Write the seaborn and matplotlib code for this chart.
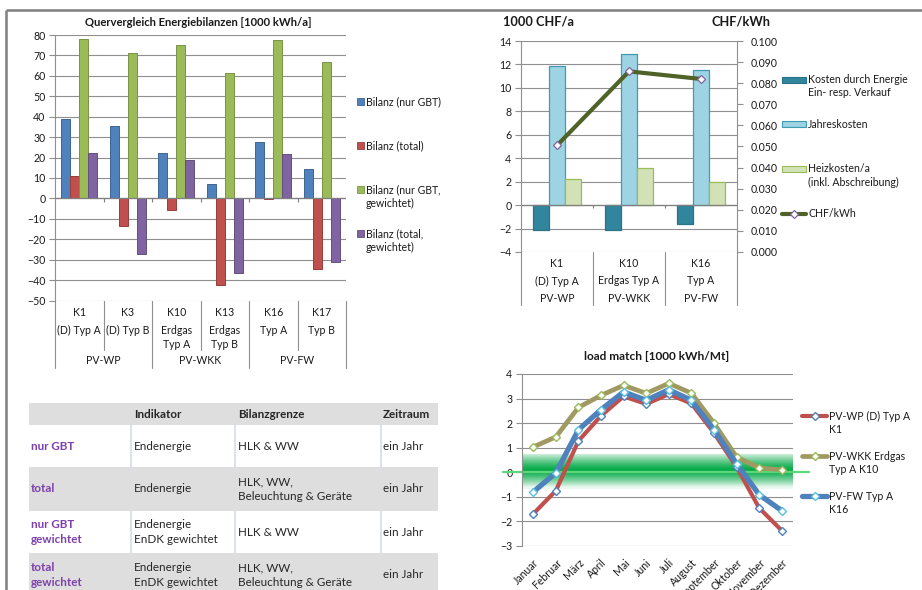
import numpy as np
import pandas as pd
import matplotlib
matplotlib.use("Agg")
import matplotlib.pyplot as plt
import seaborn as sns
from matplotlib.patches import Rectangle
from matplotlib.lines import Line2D
from matplotlib.colors import to_rgb

# ---------------- Data: chart 1 (Quervergleich Energiebilanzen) ----------------
bal_codes = ["K1", "K3", "K10", "K13", "K16", "K17"]
bal_types = ["(D) Typ A", "(D) Typ B", "Erdgas\nTyp A", "Erdgas\nTyp B", "Typ A", "Typ B"]
bal_groups = ["PV-WP", "PV-WKK", "PV-FW"]
bal_series = ["Bilanz (nur GBT)", "Bilanz (total)", "Bilanz (nur GBT,\ngewichtet)", "Bilanz (total,\ngewichtet)"]
bal_nur_gbt = [39.0, 35.5, 22.3, 7.0, 27.7, 14.5]
bal_total = [11.0, -13.5, -5.5, -42.5, -0.5, -34.5]
bal_nur_gbt_w = [78.0, 71.0, 75.0, 61.5, 77.5, 67.0]
bal_total_w = [22.0, -27.0, 19.0, -36.5, 21.5, -31.0]

# ---------------- Data: chart 2 (Kosten) ----------------
cost_codes = ["K1", "K10", "K16"]
cost_types = ["(D) Typ A", "Erdgas Typ A", "Typ A"]
cost_groups = ["PV-WP", "PV-WKK", "PV-FW"]
cost_series = ["Kosten durch Energie\nEin- resp. Verkauf", "Jahreskosten", "Heizkosten/a\n(inkl. Abschreibung)"]
cost_energy = [-2.1, -2.1, -1.6]
cost_annual = [11.9, 12.9, 11.5]
cost_heat = [2.2, 3.15, 2.0]
chf_label = "CHF/kWh"
chf_per_kwh = [0.0505, 0.0856, 0.082]

# ---------------- Data: chart 3 (load match) ----------------
months = ["Januar", "Februar", "März", "April", "Mai", "Juni", "Juli", "August",
          "September", "Oktober", "November", "Dezember"]
lm_series = ["PV-WP (D) Typ A\nK1", "PV-WKK Erdgas\nTyp A K10", "PV-FW Typ A\nK16"]
lm_pvwp = [-1.69, -0.75, 1.28, 2.3, 3.09, 2.78, 3.18, 2.8, 1.6, 0.22, -1.45, -2.37]
lm_pvwkk = [1.03, 1.44, 2.64, 3.13, 3.54, 3.21, 3.62, 3.22, 2.0, 0.62, 0.18, 0.1]
lm_pvfw = [-0.8, -0.02, 1.73, 2.55, 3.27, 2.93, 3.36, 2.93, 1.74, 0.35, -0.91, -1.56]

# ---------------- Data: table ----------------
tab_header = ["", "Indikator", "Bilanzgrenze", "Zeitraum"]
tab_rows = [
    ["nur GBT", "Endenergie", "HLK & WW", "ein Jahr"],
    ["total", "Endenergie", "HLK, WW,\nBeleuchtung & Geräte", "ein Jahr"],
    ["nur GBT\ngewichtet", "Endenergie\nEnDK gewichtet", "HLK & WW", "ein Jahr"],
    ["total\ngewichtet", "Endenergie\nEnDK gewichtet", "HLK, WW,\nBeleuchtung & Geräte", "ein Jahr"],
]

# ---------------- Style ----------------
sns.set_theme(style="white")
FONT = ["Lato", "DejaVu Sans"]
plt.rcParams["font.family"] = FONT
TXT = "#1a1a1a"
GRID = "#8f8f8f"
FS = 7.6
FS_TAB = 8.4

W, H = 922, 590
fig = plt.figure(figsize=(W / 100, H / 100), dpi=100)
fig.patch.set_facecolor("white")


def px_axes(x0, y0, x1, y1):
    return fig.add_axes([x0 / W, 1 - y1 / H, (x1 - x0) / W, (y1 - y0) / H])


def darker(c, f=0.78):
    r, g, b = to_rgb(c)
    return (r * f, g * f, b * f)


ov = px_axes(0, 0, W, H)
ov.set_xlim(0, W)
ov.set_ylim(H, 0)
ov.axis("off")

# outer frame (top + left)
ov.plot([6, 6], [10, H], color="#808080", lw=1.8, solid_capstyle="butt")
ov.plot([6, W], [10, 10], color="#808080", lw=1.8, solid_capstyle="butt")


def multiline(x, y, label, lh, **kw):
    for i, line in enumerate(label.split("\n")):
        ov.text(x, y + i * lh, line, va="center", **kw)


def style_axis(ax):
    ax.set_xlabel("")
    ax.set_ylabel("")
    for s in ["top", "right", "bottom"]:
        ax.spines[s].set_visible(False)
    ax.spines["left"].set_color(GRID)
    ax.spines["left"].set_linewidth(0.8)
    ax.yaxis.grid(True, color=GRID, lw=0.8)
    ax.set_axisbelow(True)
    ax.tick_params(axis="y", left=True, length=4, width=0.8, color=GRID,
                   labelsize=FS, labelcolor=TXT, pad=3)
    ax.set_xticks([])
    ax.set_facecolor("none")


# ======================= Chart 1 =======================
ax1 = px_axes(55, 35, 346, 300.5)
colors1 = ["#4F81BD", "#C0504D", "#9BBB59", "#8064A2"]
df1 = pd.DataFrame({"code": bal_codes,
                    bal_series[0]: bal_nur_gbt,
                    bal_series[1]: bal_total,
                    bal_series[2]: bal_nur_gbt_w,
                    bal_series[3]: bal_total_w}).melt(id_vars="code", var_name="serie", value_name="wert")
sns.barplot(data=df1, x="code", y="wert", hue="serie", order=bal_codes, hue_order=bal_series,
            palette=dict(zip(bal_series, colors1)), saturation=1, width=0.74, ax=ax1,
            legend=False, errorbar=None)
for cont, c in zip(ax1.containers, colors1):
    for p in cont:
        p.set_edgecolor(darker(c))
        p.set_linewidth(0.7)
ax1.set_ylim(-50, 80)
ax1.set_xlim(-0.5, len(bal_codes) - 0.5)
ax1.set_yticks(np.arange(-50, 81, 10))
style_axis(ax1)
ax1.axhline(0, color="#7f7f7f", lw=0.9, zorder=1)
ax1.vlines(np.arange(0.5, len(bal_codes) - 0.5, 1), -1.6, 0, color="#7f7f7f", lw=0.8)

# multi-level category axis (pixel coordinates on overlay)
x_edges1 = np.linspace(55, 346, len(bal_codes) + 1)
for i in range(len(bal_codes) + 1):
    bottom = 368 if i % 2 == 0 else 350
    ov.plot([x_edges1[i]] * 2, [300.5, bottom], color=GRID, lw=0.8)
for i, (code, typ) in enumerate(zip(bal_codes, bal_types)):
    xc = (x_edges1[i] + x_edges1[i + 1]) / 2
    ov.text(xc, 312, code, ha="center", va="center", fontsize=FS, color=TXT)
    multiline(xc, 330, typ, 14, ha="center", fontsize=FS, color=TXT)
for g, name in enumerate(bal_groups):
    xc = (x_edges1[2 * g] + x_edges1[2 * g + 2]) / 2
    ov.text(xc, 361, name, ha="center", va="center", fontsize=FS, color=TXT)

ov.text(198, 22, "Quervergleich Energiebilanzen [1000 kWh/a]", ha="center", va="center",
        fontsize=8.1, fontweight="bold", color=TXT)

for y, lab, c in zip([101.5, 145.5, 189.5, 233.5], bal_series, colors1):
    ov.add_patch(Rectangle((357, y - 3.5), 7, 7, fc=c, ec=darker(c), lw=0.6))
    multiline(366, y, lab, 14, ha="left", fontsize=FS, color=TXT)

# ======================= Chart 2 =======================
ax2 = px_axes(521, 41, 737, 252)
fill2 = ["#31859C", "#9DD3E2", "#D2E2B6"]
edge2 = ["#2A7386", "#3E9BB3", "#9BBB59"]
df2 = pd.DataFrame({"code": cost_codes,
                    cost_series[0]: cost_energy,
                    cost_series[1]: cost_annual,
                    cost_series[2]: cost_heat}).melt(id_vars="code", var_name="serie", value_name="wert")
sns.barplot(data=df2, x="code", y="wert", hue="serie", order=cost_codes, hue_order=cost_series,
            palette=dict(zip(cost_series, fill2)), saturation=1, width=0.68, ax=ax2,
            legend=False, errorbar=None)
for cont, ec in zip(ax2.containers, edge2):
    for p in cont:
        p.set_edgecolor(ec)
        p.set_linewidth(0.9)
ax2.set_ylim(-4, 14)
ax2.set_xlim(-0.5, len(cost_codes) - 0.5)
ax2.set_yticks(np.arange(-4, 15, 2))
style_axis(ax2)
ax2.axhline(0, color="#7f7f7f", lw=0.9, zorder=1)
ax2.vlines(np.arange(0.5, len(cost_codes) - 0.5, 1), -0.25, 0, color="#7f7f7f", lw=0.8)

ax2r = ax2.twinx()
sns.lineplot(x=np.arange(len(cost_codes)), y=chf_per_kwh, ax=ax2r, color="#4F6228", lw=3,
             marker="D", markersize=4.5, markerfacecolor="white", markeredgecolor="#8064A2",
             markeredgewidth=0.9, legend=False)
ax2r.set_ylim(0, 0.1)
ax2r.set_xlim(-0.5, len(cost_codes) - 0.5)
ax2r.set_yticks(np.arange(0, 0.1001, 0.01))
ax2r.set_yticklabels([f"{v:.3f}" for v in np.arange(0, 0.1001, 0.01)])
for s in ["top", "left", "bottom"]:
    ax2r.spines[s].set_visible(False)
ax2r.spines["right"].set_color(GRID)
ax2r.spines["right"].set_linewidth(0.8)
ax2r.tick_params(axis="y", right=True, length=4, width=0.8, color=GRID,
                 labelsize=FS, labelcolor=TXT, pad=6)
ax2r.set_ylabel("")
ax2r.grid(False)

x_edges2 = np.linspace(521, 737, len(cost_codes) + 1)
for xe in x_edges2:
    ov.plot([xe, xe], [252, 305], color=GRID, lw=0.8)
for i in range(len(cost_codes)):
    xc = (x_edges2[i] + x_edges2[i + 1]) / 2
    ov.text(xc, 263.5, cost_codes[i], ha="center", va="center", fontsize=FS, color=TXT)
    ov.text(xc, 281, cost_types[i], ha="center", va="center", fontsize=FS, color=TXT)
    ov.text(xc, 298.5, cost_groups[i], ha="center", va="center", fontsize=FS, color=TXT)

ov.text(503, 22, "1000 CHF/a", ha="left", va="center", fontsize=9.2, fontweight="bold", color=TXT)
ov.text(770, 22, "CHF/kWh", ha="right", va="center", fontsize=9.2, fontweight="bold", color=TXT)

for y, lab, fc, ec in zip([79.5, 124, 168.5], cost_series, fill2, edge2):
    ov.add_patch(Rectangle((782, y - 3), 24, 6, fc=fc, ec=ec, lw=0.8))
    multiline(808, y, lab, 13.5, ha="left", fontsize=FS, color=TXT)
ov.add_line(Line2D([782, 806], [213.5, 213.5], color="#4F6228", lw=3))
ov.add_line(Line2D([794], [213.5], marker="D", ms=4.5, mfc="white", mec="#8064A2", mew=0.9))
ov.text(808, 213.5, chf_label, ha="left", va="center", fontsize=FS, color=TXT)

# ======================= Chart 3 =======================
ax3 = px_axes(522, 374, 793, 546)
line_cols = ["#C0504D", "#A09A62", "#4F81BD"]
mk_cols = ["#4F81BD", "#9BBB59", "#5BC0DE"]
lws = [3.0, 3.4, 3.8]
for vals, lc, mc, lw in zip([lm_pvwp, lm_pvwkk, lm_pvfw], line_cols, mk_cols, lws):
    sns.lineplot(x=months, y=vals, sort=False, ax=ax3, color=lc, lw=lw, marker="D",
                 markersize=4.5, markerfacecolor="white", markeredgecolor=mc,
                 markeredgewidth=1.0, legend=False, zorder=3)
ax3.set_ylim(-3, 4)
ax3.set_xlim(-0.5, len(months) - 0.5)
ax3.set_yticks(np.arange(-3, 5, 1))
style_axis(ax3)
ax3.set_xticks(np.arange(len(months)))
ax3.set_xticklabels(months, rotation=45, ha="right", rotation_mode="anchor",
                    fontsize=FS, color=TXT)
ax3.tick_params(axis="x", bottom=False, pad=2)

# green gradient band around zero
t = np.linspace(-1, 1, 120)
alpha = np.clip(1 - np.abs(t - 0.1) ** 1.3, 0, 1) * 0.9 + 0.08
band = np.zeros((len(t), 2, 4))
band[..., 0], band[..., 1], band[..., 2] = 0.0, 0.66, 0.27
band[..., 3] = alpha[:, None]
ax3.imshow(band, extent=[-0.5, len(months) - 0.5, -0.68, 0.72], origin="lower",
           aspect="auto", zorder=1.5, interpolation="bilinear")
ax3.set_xlim(-0.5, len(months) - 0.5)
ax3.set_ylim(-3, 4)
ax3.axhline(0, xmin=-0.07, xmax=1.06, clip_on=False, color="#5CD67A", lw=1.6, zorder=2)

ov.text(657, 357, "load match [1000 kWh/Mt]", ha="center", va="center",
        fontsize=8.6, fontweight="bold", color=TXT)
for y, lab, lc, mc, lw in zip([416, 456, 496], lm_series, line_cols, mk_cols, lws):
    ov.add_line(Line2D([802, 827], [y, y], color=lc, lw=lw))
    ov.add_line(Line2D([814.5], [y], marker="D", ms=4.5, mfc="white", mec=mc, mew=1.0))
    multiline(829, y, lab, 13.5, ha="left", fontsize=FS, color=TXT)

# ======================= Table =======================
col_x = [31, 134, 238, 383]
col_sep = [131, 235, 381]
row_edges = [425, 467, 511, 553, 596]
ov.add_patch(Rectangle((29, 403), 409, 22, fc="#DEDEDE", ec="none"))
for j, h in enumerate(tab_header):
    ov.text(col_x[j], 414, h, ha="left", va="center", fontsize=FS_TAB, fontweight="bold", color="#262626")
for r, row in enumerate(tab_rows):
    y0, y1 = row_edges[r], row_edges[r + 1]
    yc = (y0 + y1) / 2 if r < 3 else 575
    if r % 2 == 1:
        ov.add_patch(Rectangle((29, y0), 409, y1 - y0, fc="#DEDEDE", ec="none"))
    else:
        for xs in col_sep:
            ov.plot([xs, xs], [y0, y1], color="#D5DCE8", lw=1.2)
    for j, cell in enumerate(row):
        lines = cell.split("\n")
        ystart = yc - (len(lines) - 1) * 7.5
        if j == 0:
            multiline(col_x[j], ystart, cell, 15, ha="left", fontsize=FS_TAB, fontweight="bold",
                      color="#7E3FAE")
        else:
            multiline(col_x[j], ystart, cell, 15, ha="left", fontsize=FS_TAB, color="#262626")

fig.savefig("out.png", dpi=100)
